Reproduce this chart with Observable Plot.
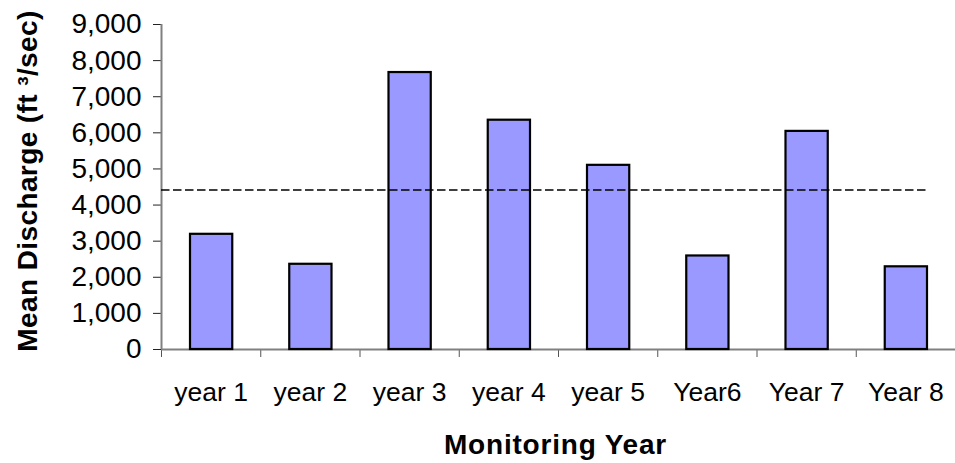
<!DOCTYPE html>
<html>
<head>
<meta charset="utf-8">
<script src="https://cdn.jsdelivr.net/npm/d3@7"></script>
<script src="https://cdn.jsdelivr.net/npm/@observablehq/plot@0.6"></script>
<style>
  html, body { margin: 0; padding: 0; background: #fff; }
  #chart { width: 955px; height: 463px; }
</style>
</head>
<body>
<div id="chart"></div>
<script>
const categories = ["year 1", "year 2", "year 3", "year 4", "year 5", "Year6", "Year 7", "Year 8"];
const discharge = [3190, 2360, 7670, 6350, 5100, 2590, 6040, 2290];
const meanDischarge = 4420;
const yTicks = [0, 1000, 2000, 3000, 4000, 5000, 6000, 7000, 8000, 9000];
const yTitle = "Mean Discharge (ft \u00B3/sec)";
const xTitle = "Monitoring Year";

const data = categories.map((c, i) => ({category: c, index: i, value: discharge[i]}));
const boundaries = categories.map((c, i) => i);

const chart = Plot.plot({
  width: 955,
  height: 463,
  marginLeft: 161,
  marginRight: 0,
  marginTop: 24,
  marginBottom: 114,
  style: {fontFamily: "'Liberation Sans', Arial, sans-serif", background: "#fff", color: "#000"},
  x: {domain: [0, categories.length]},
  y: {domain: [0, 9000]},
  marks: [
    Plot.axisY({ticks: yTicks, tickSize: 8, tickPadding: 12, tickFormat: d3.format(","), fontSize: 28, label: null, stroke: "#222"}),
    Plot.axisX({ticks: boundaries, tickSize: 8, tickFormat: () => "", label: null, stroke: "#555"}),
    Plot.text(categories, {x: (d, i) => i + 0.5, frameAnchor: "bottom", dy: 51, text: d => d, fontSize: 26.5, fill: "#000"}),
    Plot.ruleX([0], {stroke: "#808080", strokeWidth: 2}),
    Plot.ruleY([0], {stroke: "#808080", strokeWidth: 2}),
    Plot.rectY(data, {x1: "index", x2: d => d.index + 1, y: "value", insetLeft: 29, insetRight: 28, fill: "#9999FF", stroke: "#000", strokeWidth: 2.2}),
    Plot.ruleY([meanDischarge], {x1: 0, x2: 7.73, stroke: "#000", strokeWidth: 1.5, strokeDasharray: "8.5,3.5"}),
    Plot.text([yTitle], {frameAnchor: "left", textAnchor: "middle", lineAnchor: "middle", rotate: -90, dx: -133, dy: -6, fontSize: 28, fontWeight: "bold", fill: "#000"}),
    Plot.text([xTitle], {frameAnchor: "bottom", textAnchor: "middle", dy: 104, dx: -3, fontSize: 28, fontWeight: "bold", fill: "#000"})
  ]
});
chart.querySelectorAll("text").forEach(t => {
  if (t.textContent === xTitle) t.setAttribute("letter-spacing", "0.8");
  if (t.textContent === yTitle) t.setAttribute("letter-spacing", "0.4");
});
document.getElementById("chart").appendChild(chart);
</script>
</body>
</html>
